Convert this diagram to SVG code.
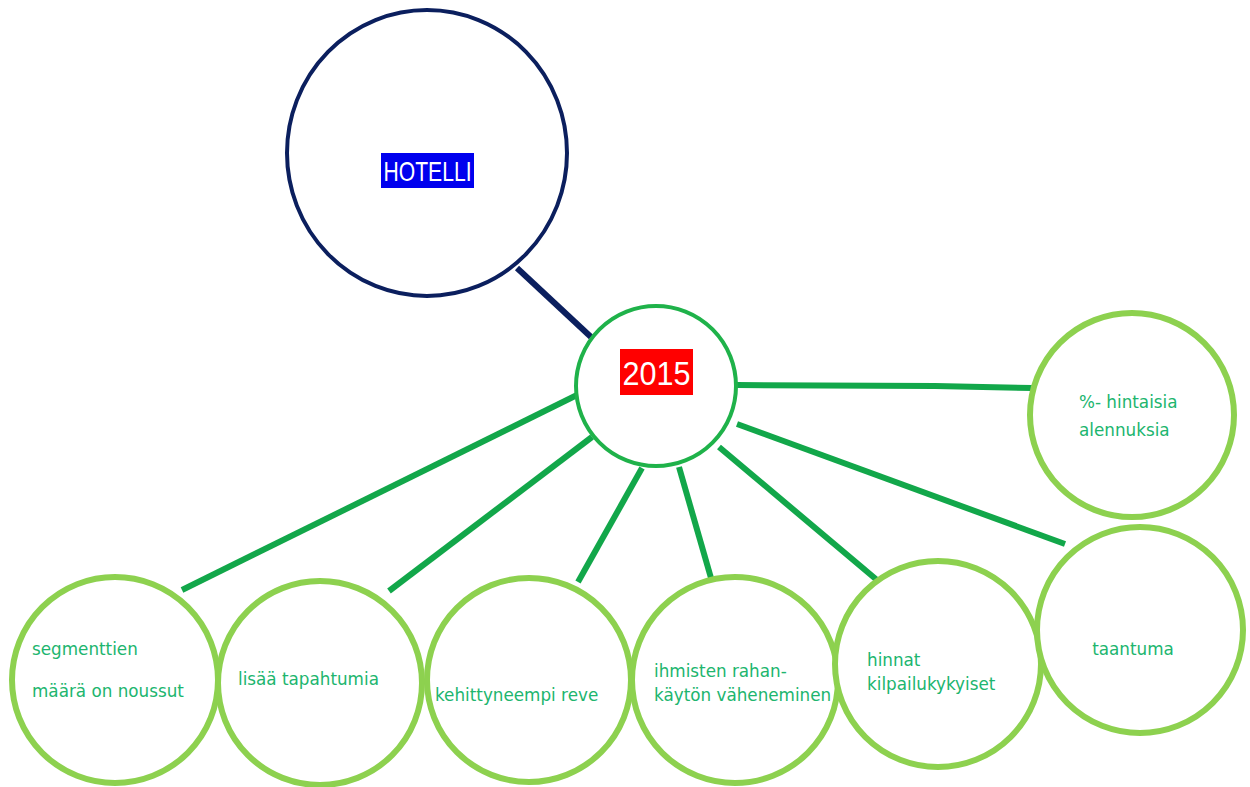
<svg xmlns="http://www.w3.org/2000/svg" width="1250" height="787" viewBox="0 0 1250 787">
<style>
.leaf{fill:#fff;stroke:#8dd14f;stroke-width:6}
.lbl{font-family:"DejaVu Sans",sans-serif;font-size:16.8px;fill:#20b56e}
.con{stroke:#12a74a;stroke-width:6;stroke-linecap:butt;fill:none}
</style>
<rect width="1250" height="787" fill="#fff"/>
<g id="connectors">
<line x1="517" y1="268" x2="591" y2="337" stroke="#0b1f5e" stroke-width="6"/>
<polyline class="con" points="737,385 935,386 1032,388"/>
<line class="con" x1="577" y1="395" x2="182" y2="590"/>
<line class="con" x1="592" y1="437" x2="389" y2="591"/>
<line class="con" x1="642" y1="468" x2="578" y2="582"/>
<line class="con" x1="679" y1="467" x2="711" y2="578"/>
<line class="con" x1="719" y1="447" x2="877" y2="580"/>
<line class="con" x1="737" y1="424" x2="1065" y2="544"/>
</g>
<g id="hotelli">
<ellipse cx="427" cy="153" rx="140" ry="143" fill="#fff" stroke="#0b1f5e" stroke-width="4"/>
<rect x="381" y="153" width="93" height="35" fill="#0000ee"/>
<text x="427.5" y="181" text-anchor="middle" font-family="'Liberation Sans',sans-serif" font-size="28" fill="#fff" textLength="88" lengthAdjust="spacingAndGlyphs">HOTELLI</text>
</g>
<g id="y2015">
<circle cx="656" cy="386" r="80" fill="#fff" stroke="#1fb24a" stroke-width="4"/>
<rect x="620" y="349" width="73" height="46" fill="#ff0000"/>
<text x="656.5" y="385" text-anchor="middle" font-family="'Liberation Sans',sans-serif" font-size="33" fill="#fff" textLength="68" lengthAdjust="spacingAndGlyphs">2015</text>
</g>
<g id="alennukset">
<circle class="leaf" cx="1132" cy="415" r="102"/>
<text class="lbl" x="1079" y="408">%- hintaisia</text>
<text class="lbl" x="1079" y="436">alennuksia</text>
</g>
<g id="segmentit">
<circle class="leaf" cx="115" cy="680" r="103"/>
<text class="lbl" x="32" y="655">segmenttien</text>
<text class="lbl" x="32" y="697">määrä on noussut</text>
</g>
<g id="tapahtumat">
<circle class="leaf" cx="320" cy="683" r="102"/>
<text class="lbl" x="238" y="685">lisää tapahtumia</text>
</g>
<g id="reve">
<circle class="leaf" cx="529" cy="680" r="102"/>
<text class="lbl" x="435" y="701">kehittyneempi reve</text>
</g>
<g id="rahankaytto">
<circle class="leaf" cx="735" cy="680" r="103"/>
<text class="lbl" x="654" y="677">ihmisten rahan-</text>
<text class="lbl" x="654" y="701">käytön väheneminen</text>
</g>
<g id="hinnat">
<circle class="leaf" cx="938" cy="664" r="103"/>
<text class="lbl" x="867" y="666">hinnat</text>
<text class="lbl" x="867" y="690">kilpailukykyiset</text>
</g>
<g id="taantuma">
<circle class="leaf" cx="1140" cy="630" r="103"/>
<text class="lbl" x="1133" y="655" text-anchor="middle">taantuma</text>
</g>
</svg>
